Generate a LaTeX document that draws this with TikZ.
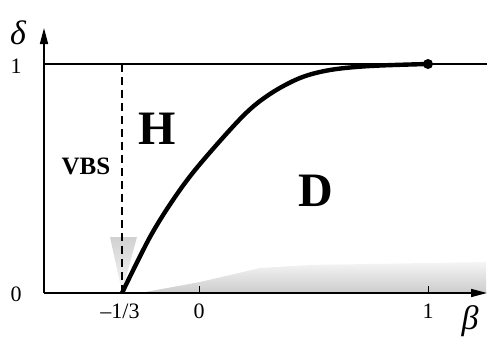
\documentclass[tikz,border=0pt]{standalone}
\usepackage{fontspec}
\setmainfont{Liberation Serif}
\usetikzlibrary{arrows.meta}
\begin{document}
\begin{tikzpicture}[x=1pt,y=-1pt,
  axis/.style={line width=1.6pt,-{Triangle[length=16pt,width=8pt]}},
  tick/.style={font=\fontsize{22}{22}\selectfont,inner sep=1pt},
  greek/.style={font=\itshape\fontsize{34}{34}\selectfont,inner sep=0pt},
  region/.style={font=\bfseries\fontsize{48}{48}\selectfont}]
\useasboundingbox (0,0) rectangle (489,343);
% shaded areas
\shade[top color=black!4,bottom color=black!20,draw=none] (140,293) -- (200,282) -- (260,268) -- (310,265) -- (486,262) -- (486,293) -- cycle;
\shade[top color=black!18,bottom color=black!3,draw=none] (110,237) -- (137,237) -- (122,292) -- cycle;
% coordinates
\coordinate (O) at (44,293);
\coordinate (Ytip) at (44,28);
\coordinate (Xtip) at (487,293);
\coordinate (Y1) at (44,64);
\coordinate (Y1r) at (487,64);
\coordinate (Vtop) at (122,64);
\coordinate (Vbot) at (122,293);
\coordinate (T0) at (199,293);
\coordinate (T0u) at (199,286);
\coordinate (T1) at (428,293);
\coordinate (T1u) at (428,286);
% lines
\draw[line width=1.6pt] (Y1) -- (Y1r);
\draw[line width=1.6pt,dash pattern=on 8pt off 5pt] (Vtop) -- (Vbot);
\draw[axis] (O) -- (Ytip);
\draw[axis] (O) -- (Xtip);
\draw[line width=1pt] (T0) -- (T0u);
\draw[line width=1pt] (T1) -- (T1u);
% curve
\draw[line width=4.4pt] plot[smooth,tension=0.55] coordinates {(122,293) (150,237) (175,197) (200,164) (243,116) (270,94) (300,78) (330,70) (370,66) (428,64)};
\node[circle,fill=black,inner sep=0pt,minimum size=10pt] (dot) at (428,64) {};
% labels
\node[greek] (delta) at (18,33) {δ};
\node[greek] (beta) at (470,321) {β};
\node[tick] (l1) at (16,66) {1};
\node[tick] (l0) at (16,294) {0};
\node[tick] (lm) at (120,311) {–1/3};
\node[tick] (lz) at (199,311) {0};
\node[tick] (lo) at (428,311) {1};
\node[region] (H) at (157,129) {H};
\node[region] (D) at (316,191) {D};
\node[font=\bfseries\fontsize{25}{25}\selectfont] (VBS) at (86,166) {VBS};
\end{tikzpicture}
\end{document}
